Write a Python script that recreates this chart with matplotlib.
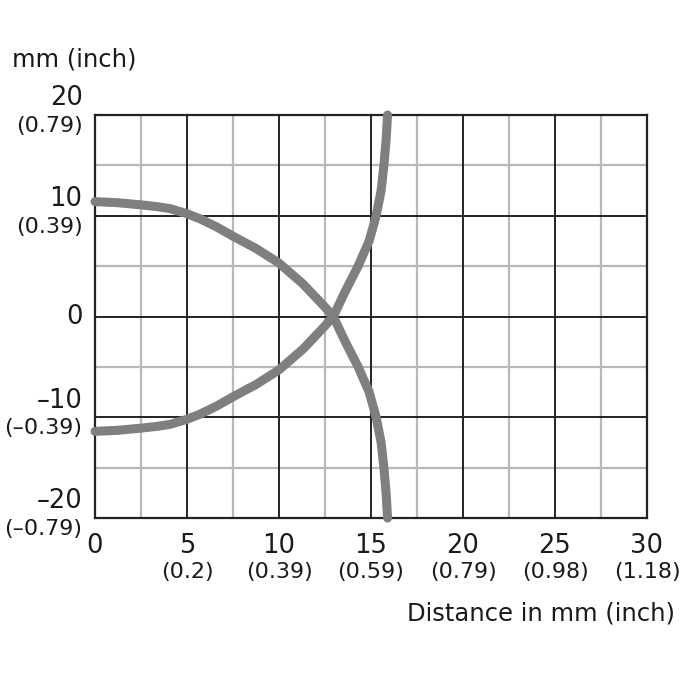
import matplotlib.pyplot as plt

# curve data (mm)
upper_x = [0, 1.2, 2.5, 3.4, 4.1, 5, 5.7, 6.6, 7.5, 8.75, 10, 11.3, 12.5,
           12.95, 13.6, 14.3, 14.9, 15.28, 15.55, 15.7, 15.82, 15.9]
upper_y = [11.4, 11.3, 11.08, 10.9, 10.7, 10.2, 9.7, 8.9, 7.97, 6.75, 5.3, 3.24,
           0.93, 0, -2.5, -5, -7.5, -10, -12.5, -15, -17.5, -20]
lower_x = [0, 1.2, 2.5, 3.4, 4.1, 5, 5.7, 6.6, 7.5, 8.75, 10, 11.3, 12.5,
           12.95, 13.6, 14.3, 14.9, 15.28, 15.55, 15.7, 15.82, 15.9]
lower_y = [-11.4, -11.3, -11.08, -10.9, -10.7, -10.2, -9.7, -8.9, -7.97, -6.75,
           -5.3, -3.24, -0.93, 0, 2.5, 5, 7.5, 10, 12.5, 15, 17.5, 20]

x_ticks = [0, 5, 10, 15, 20, 25, 30]
x_labels = ["0", "5", "10", "15", "20", "25", "30"]
x_inch = ["", "(0.2)", "(0.39)", "(0.59)", "(0.79)", "(0.98)", "(1.18)"]
y_ticks = [20, 10, 0, -10, -20]
y_labels = ["20", "10", "0", "\u201310", "\u201320"]
y_inch = ["(0.79)", "(0.39)", "", "(\u20130.39)", "(\u20130.79)"]

plt.rcParams["font.family"] = ["DejaVu Sans"]

fig = plt.figure(figsize=(6.8, 6.8), dpi=100)
ax = fig.add_axes([95 / 680, 1 - 518 / 680, 552 / 680, 403 / 680])
ax.set_xlim(0, 30)
ax.set_ylim(-20, 20)

dark = "#222222"
light = "#b8b8b8"
for v in [2.5, 7.5, 12.5, 17.5, 22.5, 27.5]:
    ax.axvline(v, color=light, lw=1.6, zorder=1)
for v in [15, 5, -5, -15]:
    ax.axhline(v, color=light, lw=1.6, zorder=1)
for v in [5, 10, 15, 20, 25]:
    ax.axvline(v, color=dark, lw=1.4, zorder=2)
for v in [10, 0, -10]:
    ax.axhline(v, color=dark, lw=1.4, zorder=2)

for s in ax.spines.values():
    s.set_color(dark)
    s.set_linewidth(1.6)
ax.set_xticks([])
ax.set_yticks([])

curve = "#7e7f81"
ax.plot(upper_x, upper_y, color=curve, lw=6.5, solid_capstyle="round",
        solid_joinstyle="round", zorder=3, clip_on=False)
ax.plot(lower_x, lower_y, color=curve, lw=6.5, solid_capstyle="round",
        solid_joinstyle="round", zorder=3, clip_on=False)

txt = "#1a1a1a"
ytrans = ax.get_yaxis_transform()
for t, lab, inch in zip(y_ticks, y_labels, y_inch):
    if inch:
        ax.annotate(lab, (0, t), xycoords=ytrans, xytext=(-9, 12),
                    textcoords="offset points", ha="right", va="center",
                    fontsize=18.5, color=txt)
        ax.annotate(inch, (0, t), xycoords=ytrans, xytext=(-9, -8),
                    textcoords="offset points", ha="right", va="center",
                    fontsize=16, color=txt)
    else:
        ax.annotate(lab, (0, t), xycoords=ytrans, xytext=(-9, 0),
                    textcoords="offset points", ha="right", va="center",
                    fontsize=18.5, color=txt)

xtrans = ax.get_xaxis_transform()
for t, lab, inch in zip(x_ticks, x_labels, x_inch):
    ax.annotate(lab, (t, 0), xycoords=xtrans, xytext=(0, -20),
                textcoords="offset points", ha="center", va="center",
                fontsize=18.5, color=txt)
    if inch:
        ax.annotate(inch, (t, 0), xycoords=xtrans, xytext=(0, -39),
                    textcoords="offset points", ha="center", va="center",
                    fontsize=16, color=txt)

fig.text(12 / 680, 1 - 60 / 680, "mm (inch)", ha="left", va="center",
         fontsize=17.5, color=txt)
fig.text(675 / 680, 1 - 613 / 680, "Distance in mm (inch)", ha="right",
         va="center", fontsize=17.5, color=txt)

fig.savefig("out.png", dpi=100, facecolor="white")
